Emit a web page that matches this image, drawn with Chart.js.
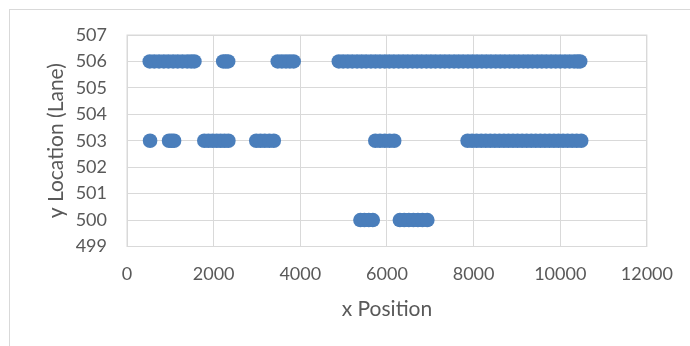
<!DOCTYPE html>
<html>
<head>
<meta charset="utf-8">
<script src="https://cdn.jsdelivr.net/npm/chart.js@4/dist/chart.umd.min.js"></script>
<style>
  html, body { margin: 0; padding: 0; background: #ffffff; overflow: hidden; }
  #frame { position: absolute; left: 9px; top: 9px; width: 720px; height: 400px; border: 1px solid #d9d9d9; box-sizing: border-box; }
  #wrap { position: absolute; left: 0; top: 0; width: 690px; height: 346px; }
</style>
</head>
<body>
<div id="frame"></div>
<div id="wrap"><canvas id="chart" width="690" height="346"></canvas></div>
<script>
// Observed x positions per lane
const lane506X = [
  525, 630, 740, 850, 955, 1065, 1170, 1280, 1390, 1480, 1556,
  2220, 2280, 2335,
  3480, 3575, 3670, 3760, 3847,
  4889, 4990, 5095, 5200, 5310, 5415, 5520, 5630, 5735, 5840, 5950, 6055,
  6160, 6270, 6375, 6480, 6590, 6695, 6800, 6910, 7015, 7120, 7230, 7335,
  7440, 7550, 7655, 7760, 7870, 7975, 8080, 8190, 8295, 8400, 8510, 8615,
  8720, 8830, 8935, 9040, 9150, 9255, 9360, 9470, 9575, 9680, 9790, 9895,
  10000, 10110, 10215, 10320, 10400, 10460
];
const lane503X = [
  532,
  971, 1030, 1086,
  1785, 1880, 1975, 2070, 2160, 2250, 2340,
  2983, 3080, 3180, 3285, 3388,
  5732, 5840, 5950, 6060, 6167,
  7862, 7965, 8070, 8175, 8280, 8385, 8490, 8595, 8700, 8805, 8910, 9015,
  9120, 9225, 9330, 9435, 9540, 9645, 9750, 9855, 9960, 10065, 10170,
  10275, 10380, 10483
];
const lane500X = [
  5388, 5480, 5580, 5673,
  6298, 6400, 6505, 6610, 6715, 6820, 6932
];
const laneValues = [506, 503, 500];
const xTicks = [0, 2000, 4000, 6000, 8000, 10000, 12000];
const yTicks = [499, 500, 501, 502, 503, 504, 505, 506, 507];

const points = [];
[lane506X, lane503X, lane500X].forEach((xs, i) => {
  xs.forEach(x => points.push({ x: x, y: laneValues[i] }));
});

const textColor = '#595959';
const gridColor = '#d9d9d9';
const fontFamily = 'Lato, "Liberation Sans", sans-serif';

new Chart(document.getElementById('chart'), {
  type: 'scatter',
  data: {
    datasets: [{
      data: points,
      backgroundColor: '#4a7ebb',
      borderColor: '#4a7ebb',
      borderWidth: 0,
      pointRadius: 7.3,
      pointHoverRadius: 7.3
    }]
  },
  options: {
    responsive: false,
    animation: false,
    events: [],
    layout: { padding: { left: 10, top: 35, right: 40, bottom: 0 } },
    plugins: { legend: { display: false }, tooltip: { enabled: false } },
    scales: {
      x: {
        type: 'linear',
        min: xTicks[0],
        max: xTicks[xTicks.length - 1],
        afterBuildTicks: s => { s.ticks = xTicks.map(v => ({ value: v })); },
        grid: { color: gridColor, lineWidth: 1, drawTicks: false },
        border: { color: gridColor, width: 1 },
        ticks: {
          color: textColor, padding: 17, font: { family: fontFamily, size: 18 },
          callback: v => String(v)
        },
        title: {
          display: true, text: 'x Position', color: textColor,
          font: { family: fontFamily, size: 21 }, padding: { top: 0, bottom: 24 }
        },
        afterFit: s => { s.height = 99.5; }
      },
      y: {
        type: 'linear',
        min: yTicks[0],
        max: yTicks[yTicks.length - 1],
        afterBuildTicks: s => { s.ticks = yTicks.map(v => ({ value: v })); },
        grid: { color: gridColor, lineWidth: 1, drawTicks: false },
        border: { color: gridColor, width: 1 },
        ticks: {
          color: textColor, padding: 20, font: { family: fontFamily, size: 18 },
          callback: v => String(v)
        },
        title: {
          display: true, text: 'y Location (Lane)', color: textColor,
          font: { family: fontFamily, size: 21 }, padding: { top: 34, bottom: 0 }
        },
        afterFit: s => { s.width = 117; }
      }
    }
  },
  plugins: [{
    id: 'plotFrame',
    afterDraw(chart) {
      const a = chart.chartArea, c = chart.ctx;
      c.save();
      c.strokeStyle = gridColor;
      c.lineWidth = 1;
      c.strokeRect(a.left, a.top, a.right - a.left, a.bottom - a.top);
      c.restore();
    }
  }]
});
</script>
</body>
</html>
